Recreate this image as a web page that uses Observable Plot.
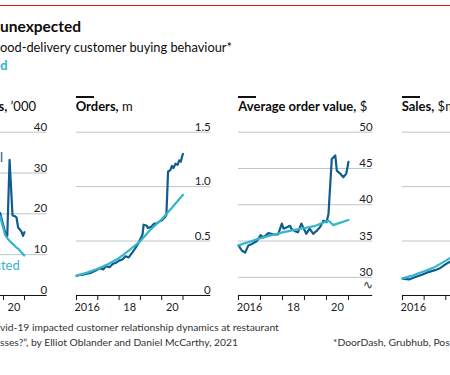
<!DOCTYPE html>
<html><head><meta charset="utf-8">
<script src="https://cdn.jsdelivr.net/npm/d3@7"></script>
<script src="https://cdn.jsdelivr.net/npm/@observablehq/plot@0.6"></script>
<style>
html,body{margin:0;padding:0;background:#fff;}
body{width:450px;height:375px;overflow:hidden;position:relative;font-family:Lato,sans-serif;color:#0c0c0c;}
.abs{position:absolute;white-space:nowrap;line-height:1;}
.bar{position:absolute;height:1.5px;background:#111;width:18px;}
.ptitle{font-size:13px;}
.ptitle b{font-weight:700;}
svg{background:transparent !important;}
</style></head><body>
<div class="abs" style="left:0;width:450px;height:1.2px;background:#E3120B;top:4.5px"></div>
<div class="abs" style="left:0;top:19.2px;font-size:15.5px;font-weight:700;">unexpected</div>
<div class="abs" style="left:0;top:40.8px;font-size:12.8px;">ood-delivery customer buying behaviour*</div>
<div class="abs" style="right:442.5px;top:58.5px;font-size:12.8px;font-weight:700;color:#2FB3CB;">Predicted</div>
<div class="abs" style="left:0;top:321.5px;font-size:10.3px;color:#333;">vid-19 impacted customer relationship dynamics at restaurant</div>
<div class="abs" style="left:0;top:336.5px;font-size:10.3px;color:#333;">sses?”, by Elliot Oblander and Daniel McCarthy, 2021</div>
<div class="abs" style="left:333px;top:336.5px;font-size:10.3px;color:#333;">*DoorDash, Grubhub, Postmates and Uber Eats</div>
<script>
// ---- data ----
const tickYears = [2016, 2017, 2018, 2019, 2020, 2021];
const labelYears = [2016, 2018, 2020];

const customersTicks = [0, 10, 20, 30, 40];
const ordersTicks = [0, 0.5, 1.0, 1.5];
const aovTicks = [30, 35, 40, 45, 50];
const salesTicks = [0, 20, 40, 60];

const customersActual = [[2019.84,20.2],[2019.95,18.0],[2020.08,15.4],[2020.18,14.6],[2020.29,33.2],[2020.43,19.6],[2020.55,19.4],[2020.62,19.1],[2020.7,16.6],[2020.78,16.2],[2020.86,15.6],[2020.93,14.6],[2021.0,15.5]];
const customersPredicted = [[2019.84,19.4],[2019.96,17.0],[2020.08,14.8],[2020.2,13.9],[2020.32,13.2],[2020.43,12.7],[2020.6,11.8],[2020.71,11.4],[2020.85,10.6],[2020.99,9.8]];

const ordersActual = [[2016.0,0.18],[2016.15,0.19],[2016.3,0.19],[2016.5,0.20],[2016.7,0.21],[2016.9,0.23],[2017.1,0.25],[2017.25,0.24],[2017.4,0.27],[2017.55,0.26],[2017.7,0.29],[2017.85,0.30],[2018.0,0.32],[2018.15,0.33],[2018.3,0.36],[2018.45,0.35],[2018.6,0.39],[2018.75,0.43],[2018.9,0.48],[2019.0,0.52],[2019.1,0.56],[2019.15,0.65],[2019.3,0.64],[2019.35,0.62],[2019.5,0.63],[2019.65,0.66],[2019.75,0.66],[2019.9,0.68],[2020.0,0.69],[2020.15,0.72],[2020.22,0.74],[2020.3,1.14],[2020.4,1.15],[2020.48,1.19],[2020.55,1.17],[2020.65,1.21],[2020.75,1.20],[2020.82,1.24],[2020.9,1.23],[2020.96,1.28],[2021.0,1.30]];
const ordersPredicted = [[2016.0,0.18],[2016.5,0.21],[2017.0,0.245],[2017.5,0.29],[2018.0,0.345],[2018.5,0.42],[2019.0,0.50],[2019.5,0.61],[2020.0,0.70],[2020.5,0.81],[2021.0,0.925]];

const aovActual = [[2016.0,34.4],[2016.15,33.7],[2016.3,33.4],[2016.45,34.4],[2016.6,34.6],[2016.84,35.0],[2017.0,35.8],[2017.14,35.5],[2017.36,36.1],[2017.6,35.9],[2017.8,35.9],[2017.97,37.4],[2018.05,36.7],[2018.2,36.9],[2018.35,37.1],[2018.4,36.7],[2018.55,36.4],[2018.7,36.2],[2018.86,37.4],[2019.08,36.0],[2019.23,36.7],[2019.4,36.0],[2019.55,36.4],[2019.7,36.9],[2019.86,37.8],[2020.0,37.6],[2020.09,38.7],[2020.24,46.3],[2020.4,46.8],[2020.47,44.7],[2020.62,44.3],[2020.77,43.8],[2020.9,44.3],[2021.0,45.9]];
const aovPredicted = [[2016.0,34.4],[2016.5,34.9],[2017.0,35.4],[2017.5,35.8],[2018.0,36.2],[2018.5,36.5],[2019.0,36.8],[2019.5,37.1],[2019.9,37.6],[2020.1,37.8],[2020.3,37.2],[2020.5,37.4],[2021.0,37.9]];

const salesActual = [[2016.0,6.2],[2016.3,5.9],[2016.6,6.8],[2016.9,7.6],[2017.2,8.6],[2017.5,9.3],[2017.7,9.9],[2017.9,11.0],[2018.1,12.0],[2018.4,13.3],[2018.7,15.3],[2019.0,19.0],[2019.2,23.5],[2019.5,22.6],[2019.8,24.7],[2020.0,26.3],[2020.2,27.9],[2020.27,53.0],[2020.5,53.2],[2020.7,53.5],[2020.9,56.0],[2021.0,59.7]];
const salesPredicted = [[2016.0,6.3],[2016.5,7.4],[2017.0,8.9],[2017.5,10.5],[2018.0,12.8],[2018.5,15.3],[2019.0,18.4],[2019.5,22.6],[2020.0,26.7],[2020.5,30.3],[2021.0,35.2]];

// ---- styles ----
const dark = "#105C8E", cyan = "#33B5CC", grid = "#B8C6CF";
const FT = 131.7, FB = 295, MT = 16.7, MB = 25;
const yearFmt = d => d === 2016 ? "2016" : String(d).slice(2);

const panels = [
  {left: -80.7, right: 47, pxYear: 21, title: ["New customers,", " ’000"], titleEnd: 36, yDomain: [0, 40], yTicks: customersTicks, fmt: d => String(d), actual: customersActual, predicted: customersPredicted, labels: true},
  {left: 75.7, right: 210, pxYear: 21.3, title: ["Orders,", " m"], yDomain: [0, 1.5], yTicks: ordersTicks, fmt: d => d === 0 ? "0" : d.toFixed(1), actual: ordersActual, predicted: ordersPredicted},
  {left: 238.3, right: 372.5, pxYear: 22, title: ["Average order value,", " $"], yDomain: [27.5, 50], yTicks: aovTicks, fmt: d => String(d), actual: aovActual, predicted: aovPredicted, brk: true},
  {left: 401.7, right: 535.5, pxYear: 21.65, title: ["Sales,", " $m"], yDomain: [0, 60], yTicks: salesTicks, fmt: d => String(d), actual: salesActual, predicted: salesPredicted}
];

for (const p of panels) {
  const w = p.right - p.left;
  const xMax = 2016 + w / p.pxYear;
  const marks = [
    Plot.ruleY(p.yTicks.filter(t => t !== p.yDomain[0]), {stroke: grid, strokeWidth: 1}),
    Plot.text(p.yTicks, {y: d => d, text: p.fmt, frameAnchor: "right", textAnchor: "end", lineAnchor: "bottom", dy: -1.5, fontSize: 11.5, fill: "#222"}),
    Plot.ruleY([p.yDomain[0]], {stroke: "#111", strokeWidth: 1}),
    Plot.axisX({ticks: tickYears, tickSize: 5, tickFormat: () => "", stroke: "#111"}),
    Plot.text(labelYears, {x: d => d + 0.5, text: yearFmt, frameAnchor: "bottom", dy: 16, fontSize: 11, fill: "#222"}),
    Plot.line(p.actual, {x: d => d[0], y: d => d[1], stroke: dark, strokeWidth: 2.2, strokeLinejoin: "round"}),
    Plot.line(p.predicted, {x: d => d[0], y: d => d[1], stroke: cyan, strokeWidth: 2.2, strokeLinejoin: "round"})
  ];
  if (p.brk) marks.push(Plot.text(["∿"], {y: 28.9, text: d => d, frameAnchor: "right", textAnchor: "end", fontSize: 12, fill: "#333"}));
  if (p.labels) {
    marks.push(Plot.text(["Actual"], {x: 2019.98, y: 33.6, text: d => d, textAnchor: "end", fontSize: 13, fill: dark}));
    marks.push(Plot.text(["Predicted"], {x: 2020.77, y: 7.3, text: d => d, textAnchor: "end", fontSize: 13, fill: cyan}));
  }
  const chart = Plot.plot({
    width: w, height: (FB - FT) + MT + MB,
    marginLeft: 0, marginRight: 0, marginTop: MT, marginBottom: MB,
    x: {domain: [2016, xMax]},
    y: {domain: p.yDomain, axis: null},
    style: {fontFamily: "Lato, sans-serif", overflow: "visible", background: "transparent"},
    marks
  });
  chart.style.position = "absolute";
  chart.style.left = p.left + "px";
  chart.style.top = (FT - MT) + "px";
  chart.style.maxWidth = "none";
  document.body.appendChild(chart);

  const bar = document.createElement("div");
  bar.className = "bar";
  bar.style.left = p.left + "px";
  bar.style.top = "96px";
  document.body.appendChild(bar);

  const t = document.createElement("div");
  t.className = "abs ptitle";
  if (p.titleEnd != null) t.style.right = (450 - p.titleEnd) + "px";
  else t.style.left = p.left + "px";
  t.style.top = "100px";
  const b = document.createElement("b");
  b.textContent = p.title[0];
  t.appendChild(b);
  t.appendChild(document.createTextNode(p.title[1]));
  document.body.appendChild(t);
}
</script>
</body></html>
